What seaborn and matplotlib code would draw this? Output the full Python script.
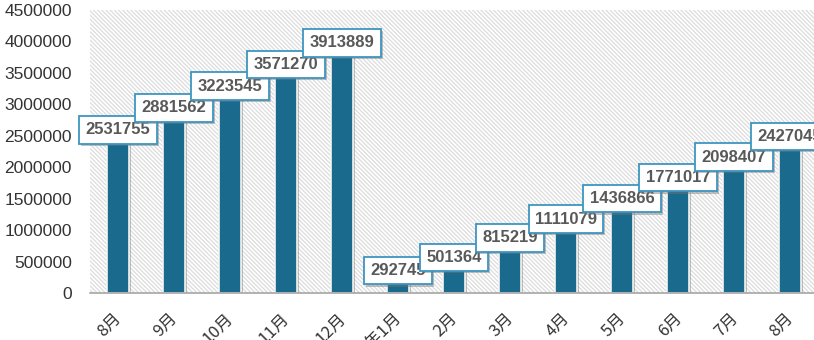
import matplotlib
matplotlib.use("Agg")
import matplotlib.pyplot as plt
import matplotlib.patheffects as pe
import matplotlib.transforms as mtransforms
from matplotlib.patches import Rectangle
from matplotlib.ticker import MultipleLocator, FuncFormatter
import seaborn as sns
import pandas as pd

months = ["8月", "9月", "10月", "11月", "12月", "2021年1月", "2月", "3月", "4月", "5月", "6月", "7月", "8月"]
values = [2531755, 2881562, 3223545, 3571270, 3913889, 292745, 501364, 815219, 1111079, 1436866, 1771017, 2098407, 2427045]

sns.set_theme(style="white")
plt.rcParams["font.family"] = ["Liberation Sans", "Noto Sans CJK SC", "DejaVu Sans"]
plt.rcParams["hatch.linewidth"] = 0.9

df = pd.DataFrame({"pos": list(range(len(months))), "value": values})

fig = plt.figure(figsize=(8.14, 3.4), dpi=100)
ax = fig.add_axes([90 / 814, 47 / 340, 728 / 814, 283 / 340])

# hatched plot background
bg = Rectangle((0, 0), 1, 1, transform=ax.transAxes, facecolor="white",
               edgecolor="#dcdcdc", hatch="\\" * 8, lw=0, zorder=0)
ax.add_patch(bg)

sns.barplot(data=df, x="pos", y="value", color="#1a6a8e", width=0.4,
            saturation=1, ax=ax, zorder=2, edgecolor="#f4f4f4", linewidth=1.2)

for bar in ax.patches:
    if bar is bg:
        continue
    bar.set_path_effects([pe.SimplePatchShadow(offset=(1.5, -1.5), shadow_rgbFace="#888888", alpha=0.5),
                          pe.Normal()])

ax.set_ylim(0, 4500000)
ax.set_xlim(-0.5, len(months) - 0.5)
ax.yaxis.set_major_locator(MultipleLocator(500000))
ax.yaxis.set_major_formatter(FuncFormatter(lambda v, p: f"{int(v)}"))
ax.set_xlabel("")
ax.set_ylabel("")
ax.set_xticks(range(len(months)))
ax.set_xticklabels(months, rotation=45, ha="right", va="top")
ax.tick_params(axis="y", length=0, pad=13, labelsize=12.5, labelcolor="#333333")
ax.tick_params(axis="x", length=0, pad=12, labelsize=12, labelcolor="#333333")
shift = mtransforms.ScaledTranslation(7 / 100, 0, fig.dpi_scale_trans)
for lab in ax.get_xticklabels():
    lab.set_family(["Noto Sans CJK SC", "DejaVu Sans"])
    lab.set_transform(lab.get_transform() + shift)

for s in ["left", "right", "top"]:
    ax.spines[s].set_visible(False)
ax.spines["bottom"].set_color("#a6a6a6")
ax.spines["bottom"].set_linewidth(1.2)
ax.spines["bottom"].set_zorder(3)

bars = [b for b in ax.patches if b is not bg]
for bar, v in zip(bars, values):
    cx = bar.get_x() + bar.get_width() / 2
    t = ax.annotate(f"{v}", xy=(cx, bar.get_height()), xytext=(0, 4),
                    textcoords="offset pixels", ha="center", va="center",
                    fontsize=12, fontweight="bold", color="#595959", zorder=5,
                    annotation_clip=False,
                    bbox=dict(boxstyle="square,pad=0.38", facecolor="white",
                              edgecolor="#3d95c0", linewidth=1.3))
    t.get_bbox_patch().set_path_effects([
        pe.SimplePatchShadow(offset=(1.5, -1.5), shadow_rgbFace="#777777", alpha=0.45),
        pe.Normal()])

fig.savefig("out.png", dpi=100)
